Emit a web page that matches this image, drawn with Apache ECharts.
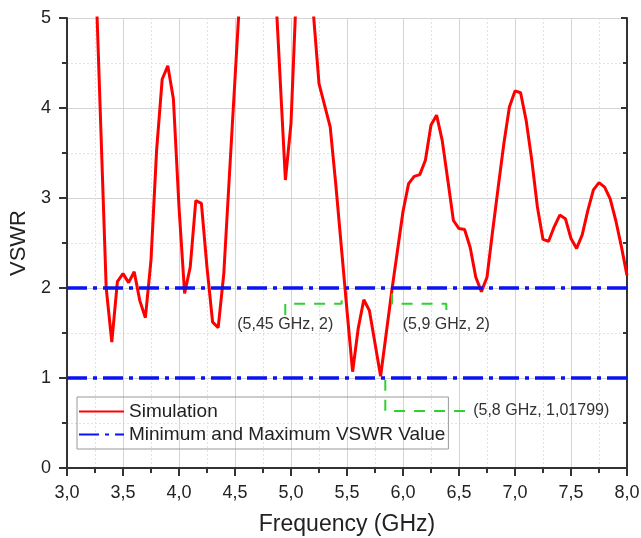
<!DOCTYPE html>
<html>
<head>
<meta charset="utf-8">
<script src="https://cdn.jsdelivr.net/npm/echarts@6/dist/echarts.min.js"></script>
<style>
  html, body { margin: 0; padding: 0; background: #fff; }
  #main { width: 641px; height: 538px; }
</style>
</head>
<body>
<div id="main"></div>
<script>
(function () {
    // frequency (GHz) / VSWR
    var freq = [3.25, 3.35, 3.40, 3.45, 3.50, 3.55, 3.60, 3.65, 3.70, 3.75, 3.80, 3.85, 3.90, 3.95,
        4.00, 4.05, 4.10, 4.15, 4.20, 4.25, 4.30, 4.35, 4.40, 4.45, 4.55, 4.60, 4.70, 4.80, 4.85,
        4.95, 5.00, 5.05, 5.10, 5.15, 5.20, 5.25, 5.35, 5.40, 5.45, 5.50, 5.55, 5.60, 5.65, 5.70,
        5.80, 5.90, 6.00, 6.05, 6.10, 6.15, 6.20, 6.25, 6.30, 6.35, 6.40, 6.45, 6.50, 6.55, 6.60,
        6.65, 6.70, 6.75, 6.80, 6.85, 6.90, 6.95, 7.00, 7.05, 7.10, 7.15, 7.20, 7.25, 7.30, 7.35,
        7.40, 7.45, 7.50, 7.55, 7.60, 7.65, 7.70, 7.75, 7.80, 7.85, 7.90, 7.95, 8.00];
    var vswr = [5.70, 2.00, 1.40, 2.07, 2.16, 2.06, 2.18, 1.86, 1.67, 2.31, 3.53, 4.32, 4.47, 4.10,
        2.90, 1.94, 2.23, 2.97, 2.94, 2.23, 1.62, 1.56, 2.16, 3.25, 5.40, 6.50, 7.00, 6.60, 5.60,
        3.20, 3.83, 5.37, 6.20, 6.00, 5.05, 4.27, 3.79, 3.15, 2.45, 1.75, 1.07, 1.55, 1.87, 1.75,
        1.02, 1.97, 2.85, 3.16, 3.24, 3.26, 3.42, 3.81, 3.92, 3.64, 3.20, 2.75, 2.66, 2.65, 2.45,
        2.12, 1.96, 2.12, 2.63, 3.12, 3.60, 4.01, 4.19, 4.17, 3.86, 3.42, 2.90, 2.54, 2.52, 2.68,
        2.81, 2.77, 2.55, 2.44, 2.59, 2.86, 3.09, 3.17, 3.12, 2.99, 2.75, 2.46, 2.14];
    var limits = [1, 2];

    // annotation leader lines (data coords) and their texts
    var note1 = [[4.949, 1.70], [4.949, 1.824], [5.452, 1.824], [5.452, 1.94]];
    var note2 = [[5.902, 1.94], [5.902, 1.824], [6.387, 1.824], [6.387, 1.70]];
    var note3 = [[5.842, 0.98], [5.842, 0.633], [6.60, 0.633]];
    var noteText = ['(5,45 GHz, 2)', '(5,9 GHz, 2)', '(5,8 GHz, 1,01799)'];
    // which point of the leader carries the text, and on which side
    var noteAt = [0, 3, 2];
    var notePos = ['bottom', 'bottom', 'right'];

    var simData = freq.map(function (f, i) { return [f, vswr[i]]; });

    var font = 'Liberation Sans, Arial, sans-serif';
    var axisCol = '#333';
    var green = '#2fd12f';

    function noteSeries(pts, text, at, pos) {
        var d = pts.map(function (p, i) {
            var item = { value: p.slice() };
            if (i == at) {
                item.label = { show: true, formatter: text, position: pos, distance: pos == 'right' ? 3 : 2 };
            }
            return item;
        });
        return {
            type: 'line', data: d, symbol: 'circle', symbolSize: 0, showSymbol: true,
            silent: true, z: 4,
            itemStyle: { color: 'transparent' },
            lineStyle: { color: green, width: 2, type: [11, 9] },
            label: { show: false, color: '#333', fontSize: 16, fontFamily: font }
        };
    }

    var myChart = echarts.init(document.getElementById('main'));
    myChart.setOption({
        animation: false,
        backgroundColor: '#fff',
        grid: { left: 67, right: 14, top: 18, bottom: 70, outerBoundsMode: 'none' },
        legend: {
            orient: 'vertical', left: 77, top: 397,
            data: ['Simulation', 'Minimum and Maximum VSWR Value'],
            itemWidth: 45, itemHeight: 16, itemGap: 4,
            padding: [5, 3, 5, 1],
            borderColor: '#999', borderWidth: 1,
            itemStyle: { color: 'transparent', borderWidth: 0 },
            textStyle: { fontSize: 19, fontFamily: font, color: '#222' }
        },
        xAxis: [{
            type: 'value', min: 3, max: 8, interval: 0.5,
            name: 'Frequency (GHz)', nameLocation: 'middle', nameGap: 45,
            nameTextStyle: { fontSize: 23, fontFamily: font, color: '#222' },
            axisLine: { lineStyle: { color: axisCol, width: 2 } },
            axisTick: { inside: false, length: 8, lineStyle: { color: axisCol, width: 2 } },
            minorTick: { show: true, splitNumber: 2, length: 5, lineStyle: { color: axisCol, width: 2 } },
            axisLabel: { fontSize: 18, fontFamily: font, color: '#222', margin: 16,
                formatter: function (v) { return v.toFixed(1).replace('.', ','); } },
            splitLine: { show: true, lineStyle: { color: '#d4d4d4', width: 1 } },
            minorSplitLine: { show: true, lineStyle: { color: '#e2e2e2', type: [2, 2] } }
        }, {
            type: 'value', min: 3, max: 8, interval: 0.5, position: 'top',
            axisLine: { lineStyle: { color: axisCol, width: 2 } },
            axisTick: { inside: true, length: 6, lineStyle: { color: axisCol, width: 2 } },
            minorTick: { show: true, splitNumber: 2, length: 4, lineStyle: { color: axisCol, width: 2 } },
            axisLabel: { show: false }, splitLine: { show: false }
        }],
        yAxis: [{
            type: 'value', min: 0, max: 5, interval: 1,
            name: 'VSWR', nameLocation: 'middle', nameGap: 32,
            nameTextStyle: { fontSize: 22, fontFamily: font, color: '#222' },
            axisLine: { show: true, lineStyle: { color: axisCol, width: 2 } },
            axisTick: { show: true, length: 8, lineStyle: { color: axisCol, width: 2 } },
            minorTick: { show: true, splitNumber: 2, length: 5, lineStyle: { color: axisCol, width: 2 } },
            axisLabel: { fontSize: 18, fontFamily: font, color: '#222', margin: 16 },
            splitLine: { show: true, lineStyle: { color: '#d4d4d4', width: 1 } },
            minorSplitLine: { show: true, lineStyle: { color: '#e2e2e2', type: [2, 2] } }
        }, {
            type: 'value', min: 0, max: 5, interval: 1, position: 'right',
            axisLine: { show: true, lineStyle: { color: axisCol, width: 2 } },
            axisTick: { show: true, inside: true, length: 6, lineStyle: { color: axisCol, width: 2 } },
            minorTick: { show: true, splitNumber: 2, length: 4, lineStyle: { color: axisCol, width: 2 } },
            axisLabel: { show: false }, splitLine: { show: false }
        }],
        series: [
            {
                name: 'Minimum and Maximum VSWR Value', type: 'line', data: [], symbol: 'none', z: 2,
                color: '#0a14f0',
                lineStyle: { color: '#0a14f0', width: 3.5, type: [20, 6, 4, 6] },
                markLine: {
                    silent: true, symbol: 'none', label: { show: false },
                    lineStyle: { color: '#0a14f0', width: 3.5, type: [20, 6, 4, 6] },
                    data: limits.map(function (v) { return { yAxis: v }; })
                }
            },
            {
                name: 'Simulation', type: 'line', data: simData, symbol: 'none', z: 3,
                color: '#ff0000', clip: true,
                lineStyle: { color: '#ff0000', width: 3 }
            },
            noteSeries(note1, noteText[0], noteAt[0], notePos[0]),
            noteSeries(note2, noteText[1], noteAt[1], notePos[1]),
            noteSeries(note3, noteText[2], noteAt[2], notePos[2])
        ]
    });
})();
</script>
</body>
</html>
